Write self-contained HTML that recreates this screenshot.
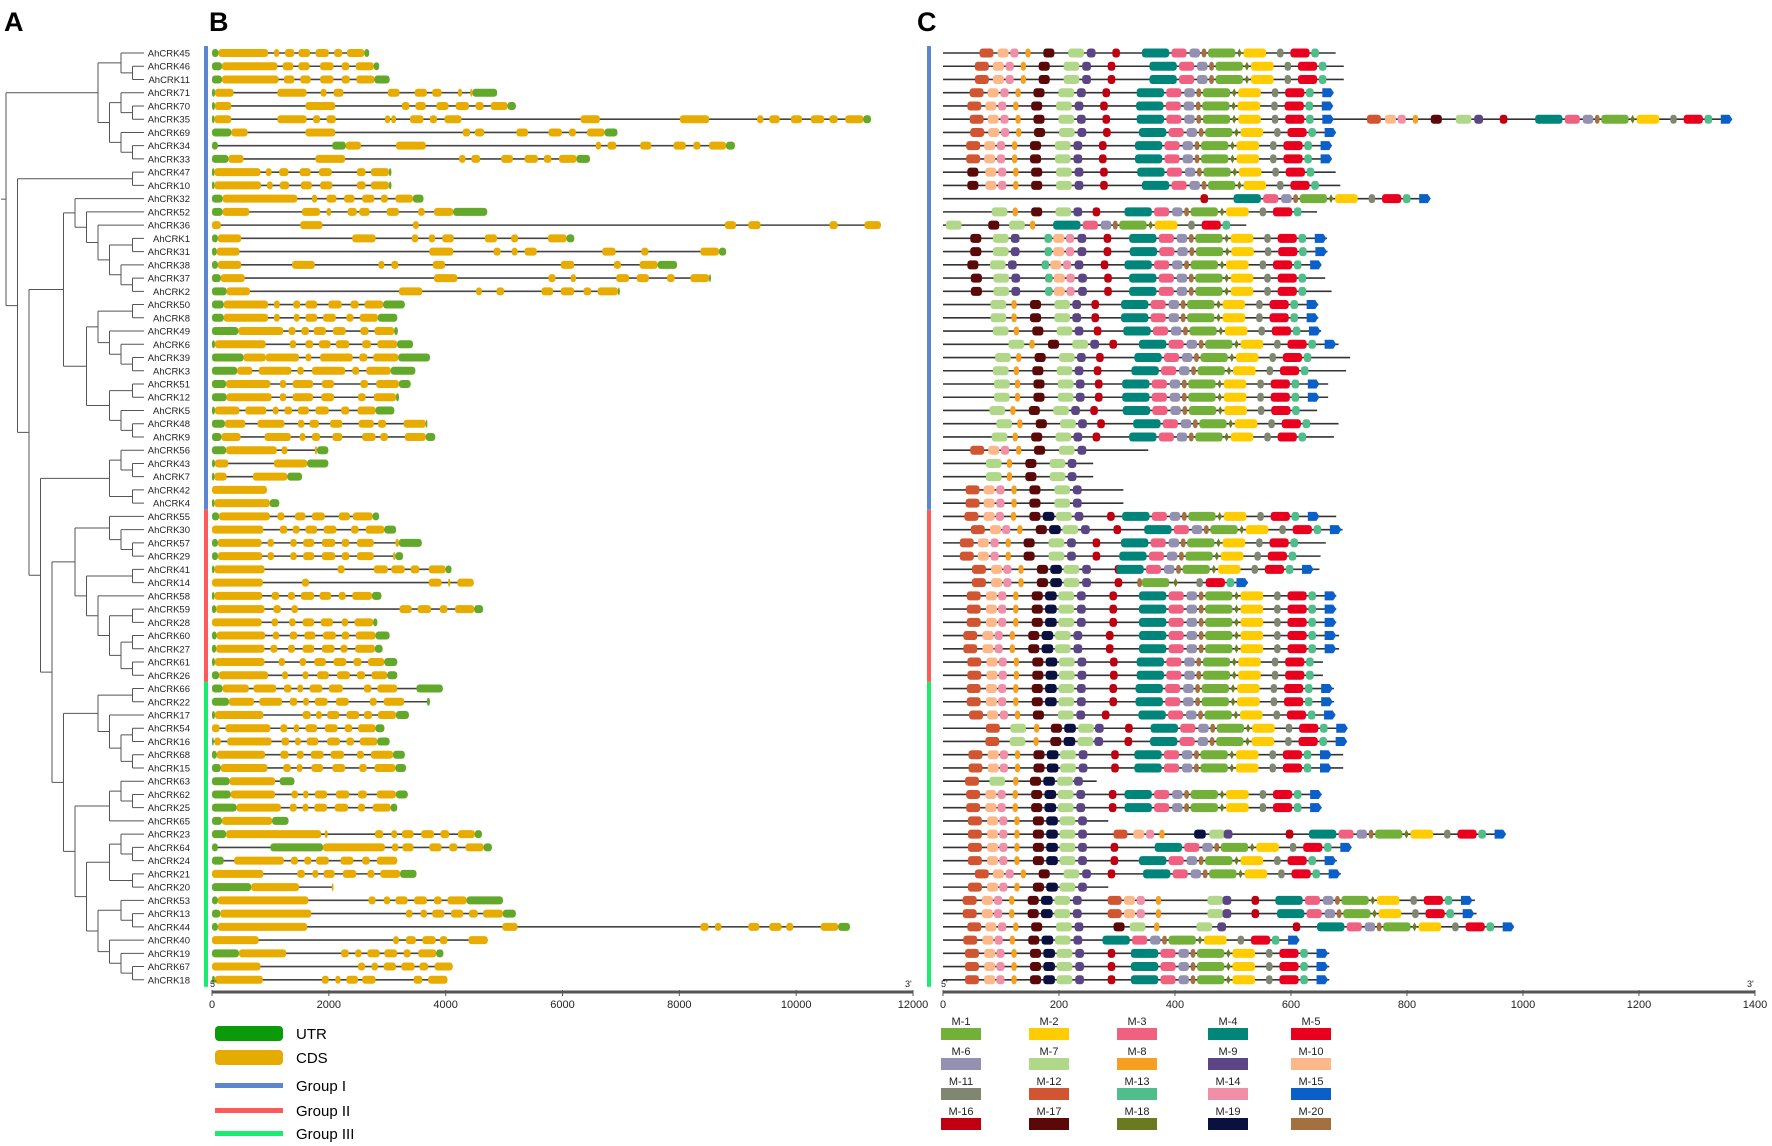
<!DOCTYPE html>
<html><head><meta charset="utf-8"><style>
html,body{margin:0;padding:0;background:#fff;}
svg{display:block;font-family:"Liberation Sans",Arial,sans-serif;}
</style></head><body>
<svg id="fig" width="1772" height="1146" viewBox="0 0 1772 1146" xmlns="http://www.w3.org/2000/svg">
<rect x="0" y="0" width="1772" height="1146" fill="#fff"/>
<text x="4" y="31" font-size="27" font-weight="bold">A</text>
<text x="209" y="31" font-size="27" font-weight="bold">B</text>
<text x="917" y="31" font-size="27" font-weight="bold">C</text>
<g id="tree"></g>
<g id="labels"></g>
<g id="genes"></g>
<g id="motifs"></g>
<g id="axes"></g>
<g id="legendB">
<rect x="215" y="1026" width="68" height="15" rx="4" fill="#0a9a0a"/>
<text x="296" y="1039" font-size="15">UTR</text>
<rect x="215" y="1050" width="68" height="15" rx="4" fill="#e6ab00"/>
<text x="296" y="1063" font-size="15">CDS</text>
<rect x="215" y="1083" width="68" height="5" fill="#5b87d0"/>
<text x="296" y="1091" font-size="15">Group I</text>
<rect x="215" y="1108" width="68" height="5" fill="#ff5a5a"/>
<text x="296" y="1116" font-size="15">Group II</text>
<rect x="215" y="1131" width="68" height="5" fill="#1aec70"/>
<text x="296" y="1139" font-size="15">Group III</text>
</g>
<g id="legendC"></g>
</svg>
<script>
const NS="http://www.w3.org/2000/svg";
const names=["AhCRK45","AhCRK46","AhCRK11","AhCRK71","AhCRK70","AhCRK35","AhCRK69","AhCRK34","AhCRK33","AhCRK47","AhCRK10","AhCRK32","AhCRK52","AhCRK36","AhCRK1","AhCRK31","AhCRK38","AhCRK37","AhCRK2","AhCRK50","AhCRK8","AhCRK49","AhCRK6","AhCRK39","AhCRK3","AhCRK51","AhCRK12","AhCRK5","AhCRK48","AhCRK9","AhCRK56","AhCRK43","AhCRK7","AhCRK42","AhCRK4","AhCRK55","AhCRK30","AhCRK57","AhCRK29","AhCRK41","AhCRK14","AhCRK58","AhCRK59","AhCRK28","AhCRK60","AhCRK27","AhCRK61","AhCRK26","AhCRK66","AhCRK22","AhCRK17","AhCRK54","AhCRK16","AhCRK68","AhCRK15","AhCRK63","AhCRK62","AhCRK25","AhCRK65","AhCRK23","AhCRK64","AhCRK24","AhCRK21","AhCRK20","AhCRK53","AhCRK13","AhCRK44","AhCRK40","AhCRK19","AhCRK67","AhCRK18"];
const groupEnds=[35,48,71];
// gene structures in kb: u=UTR, c=CDS
const geneSegs=[
"u0-.11 c.11-.96 c1.06-1.15 c1.25-1.41 c1.48-1.68 c1.77-2 c2.09-2.23 c2.31-2.61 u2.61-2.69",
"u0-.17 c.17-1.12 c1.21-1.39 c1.48-1.67 c1.85-2.08 c2.22-2.35 c2.46-2.77 u2.77-2.86",
"u0-.17 c.17-1.14 c1.23-1.41 c1.51-1.69 c1.85-2.08 c2.22-2.36 c2.47-2.78 u2.78-3.04",
"u0-.05 c.05-.37 c1.12-1.62 c1.86-1.96 c2.08-2.25 c3.01-3.21 c3.47-3.68 c3.77-3.93 c4.21-4.28 c4.42-4.46 u4.46-4.88",
"u0-.05 c.05-.33 c1.6-2.11 c3.25-3.38 c3.48-3.66 c3.84-4.05 c4.17-4.4 c4.51-4.65 c4.77-5.06 u5.06-5.2",
"u0-.04 c.04-.33 c1.12-1.62 c1.73-1.85 c1.96-2.12 c2.96-3.05 c3.07-3.15 c3.39-3.62 c3.73-3.85 c3.98-4.27 c6.31-6.64 c8.01-8.51 c9.33-9.44 c9.54-9.72 c9.91-10.1 c10.25-10.48 c10.57-10.71 c10.84-11.15 u11.15-11.28",
"u0-.33 c.33-.61 c1.6-2.11 c4.29-4.42 c4.5-4.66 c5.21-5.41 c5.76-5.99 c6.11-6.23 c6.42-6.72 u6.72-6.94",
"u0-.1 u2.06-2.29 c2.29-2.55 c3.15-3.66 c6.57-6.66 c6.77-6.92 c7.33-7.52 c7.9-8.11 c8.24-8.36 c8.51-8.8 u8.8-8.95",
"u0-.28 c.28-.54 c1.77-2.28 c4.23-4.34 c4.44-4.59 c4.95-5.15 c5.35-5.58 c5.68-5.81 c5.94-6.24 u6.24-6.47",
"u0-.04 c.04-.83 c.92-1.02 c1.15-1.31 c1.5-1.69 c1.83-2.05 c2.48-2.63 c2.72-3.03 u3.03-3.07",
"u0-.04 c.04-.84 c.94-1.04 c1.16-1.32 c1.52-1.71 c1.85-2.06 c2.48-2.63 c2.72-3.03 u3.03-3.07",
"u0-.18 c.18-1.46 c1.71-1.8 c1.96-2.13 c2.26-2.44 c2.57-2.78 c2.89-3.01 c3.14-3.44 u3.44-3.62",
"u0-.18 c.18-.64 c1.54-1.85 c1.96-2.04 c2.32-2.48 c2.52-2.7 c2.99-3.2 c3.53-3.64 c3.8-4.13 u4.13-4.71",
"c0-.15 c1.51-1.89 c3.44-3.54 c8.78-8.97 c9.18-9.39 c10.57-10.71 c11.17-11.45",
"u0-.1 c.1-.5 c2.4-2.8 c3.42-3.53 c3.71-3.82 c3.94-4.14 c4.67-4.88 c5.12-5.24 c5.75-6.07 u6.07-6.2",
"u0-.08 c.08-.47 c3.72-4.13 c4.82-4.94 c5.13-5.23 c5.35-5.56 c6.68-6.91 c7.35-7.47 c8.36-8.68 u8.68-8.8",
"u0-.1 c.1-.5 c1.37-1.76 c2.85-2.95 c3.07-3.19 c3.78-3.99 c5.97-6.2 c6.88-7 c7.32-7.63 u7.63-7.96",
"u0-.15 c.15-.56 c3.8-4.2 c5.76-5.88 c6.14-6.23 c6.92-7.14 c7.27-7.48 c7.79-7.92 c8.19-8.51 u8.51-8.54",
"u0-.25 c.25-.65 c3.2-3.6 c4.52-4.62 c4.87-5 c5.64-5.84 c5.97-6.2 c6.36-6.49 c6.6-6.95 u6.95-6.98",
"u0-.2 c.2-.96 c1.06-1.16 c1.39-1.51 c1.6-1.8 c1.99-2.22 c2.37-2.51 c2.61-2.93 u2.93-3.3",
"u0-.2 c.2-.96 c1.06-1.16 c1.4-1.5 c1.6-1.8 c1.9-2.12 c2.3-2.42 c2.53-2.84 u2.84-3.17",
"u0-.45 c.45-1.22 c1.31-1.43 c1.53-1.66 c1.74-1.95 c2.07-2.29 c2.54-2.68 c2.78-3.12 u3.12-3.18",
"u0-.05 c.05-.92 c1.33-1.44 c1.6-1.73 c1.83-2.03 c2.12-2.35 c2.57-2.72 c2.83-3.17 u3.17-3.44",
"u0-.54 c.54-.92 c.92-1.49 c1.6-1.7 c1.85-2.41 c2.52-2.66 c2.76-3.19 u3.19-3.73",
"u0-.43 c.43-.69 c.8-1.36 c1.46-1.57 c1.71-2.28 c2.4-2.52 c2.64-3.06 u3.06-3.48",
"u0-.24 c.24-1 c1.16-1.27 c1.38-1.73 c1.88-2.09 c2.54-2.67 c2.81-3.2 u3.2-3.4",
"u0-.25 c.25-1.02 c1.16-1.27 c1.38-1.73 c1.87-2.09 c2.5-2.63 c2.77-3.15 u3.15-3.2",
"u0-.05 c.05-.47 c.57-.93 c1.04-1.14 c1.24-1.37 c1.47-1.66 c1.77-2 c2.21-2.35 c2.49-2.8 u2.8-3.12",
"u0-.22 c.22-.57 c.78-1.24 c1.47-1.58 c1.67-1.83 c2.02-2.23 c2.51-2.77 c2.84-2.98 c3.28-3.66 u3.66-3.68",
"u0-.16 c.16-.49 c.9-1.35 c1.5-1.6 c1.71-1.85 c2.06-2.23 c2.57-2.8 c2.88-3.01 c3.3-3.66 u3.66-3.82",
"u0-.24 c.24-1.11 c1.19-1.29 c1.76-1.8 u1.8-1.99",
"u0-.05 c.05-.28 c1.06-1.63 u1.63-1.99",
"u0-.04 c.04-.25 c.7-1.29 u1.29-1.54",
"c0-.94",
"u0-.04 c.04-.99 u.99-1.15",
"u0-.12 c.12-.99 c1.12-1.24 c1.42-1.6 c1.71-1.93 c2.17-2.36 c2.41-2.75 u2.75-2.86",
"c0-.88 c1.16-1.29 c1.38-1.5 c1.6-1.8 c1.91-2.13 c2.38-2.51 c2.63-2.95 u2.95-3.15",
"u0-.1 c.1-.85 c.95-1.06 c1.34-1.45 c1.56-1.75 c1.88-2.11 c2.22-2.35 c2.48-2.77 c3.14-3.2 u3.2-3.59",
"u0-.1 c.1-.86 c.95-1.06 c1.34-1.45 c1.56-1.75 c1.88-2.11 c2.22-2.35 c2.48-2.77 c3.1-3.14 u3.14-3.27",
"u0-.04 c.04-.9 c2.15-2.27 c2.77-3.01 c3.07-3.3 c3.4-3.55 c3.71-4 u4-4.1",
"c0-.87 c1.54-1.66 c3.71-3.93 c4.04-4.08 c4.2-4.48",
"u0-.04 c.04-.86 c1.02-1.15 c1.3-1.42 c1.52-1.75 c1.84-2.04 c2.17-2.29 c2.4-2.74 u2.74-2.9",
"u0-.07 c.07-.9 c1.05-1.18 c1.36-1.47 c3.21-3.42 c3.52-3.75 c3.9-4.03 c4.16-4.49 u4.49-4.64",
"c0-.85 c1.02-1.13 c1.32-1.43 c1.55-1.75 c1.86-2.07 c2.22-2.33 c2.44-2.76 u2.76-2.83",
"u0-.08 c.08-.91 c1.04-1.15 c1.33-1.46 c1.58-1.77 c1.9-2.12 c2.22-2.35 c2.46-2.8 u2.8-3.04",
"u0-.07 c.07-.9 c1-1.12 c1.3-1.42 c1.55-1.75 c1.88-2.1 c2.2-2.32 c2.45-2.79 u2.79-2.92",
"u0-.05 c.05-.9 c1.14-1.25 c1.5-1.61 c1.75-1.95 c2.08-2.3 c2.42-2.56 c2.67-2.95 u2.95-3.17",
"u0-.12 c.12-.96 c1.2-1.3 c1.55-1.65 c1.8-2 c2.14-2.36 c2.48-2.62 c2.73-3 u3-3.17",
"u0-.18 c.18-.63 c.71-1.1 c1.23-1.36 c1.46-1.56 c1.67-1.89 c2-2.24 c2.6-2.73 c2.83-3.17 u3.5-3.95",
"u0-.29 c.29-.72 c.81-1.2 c1.33-1.46 c1.56-1.66 c1.76-1.98 c2.12-2.34 c2.7-2.82 c2.94-3.29 u3.68-3.73",
"u0-.05 c.05-.88 c1.55-1.69 c1.78-1.88 c1.97-2.18 c2.3-2.52 c2.6-2.74 c2.84-3.15 u3.15-3.37",
"c0-.13 c.23-1 c1.17-1.29 c1.4-1.49 c1.6-1.8 c1.93-2.15 c2.27-2.4 c2.5-2.8 u2.8-2.95",
"u0-.03 c.04-.15 c.26-1.02 c1.19-1.32 c1.42-1.52 c1.62-1.82 c1.97-2.19 c2.3-2.43 c2.53-2.83 u2.83-3.04",
"u0-.08 c.08-.91 c1.17-1.31 c1.45-1.57 c1.69-1.91 c2.03-2.26 c2.48-2.6 c2.72-3.1 u3.1-3.3",
"u0-.15 c.15-.95 c1.22-1.35 c1.45-1.55 c1.7-1.9 c2.06-2.28 c2.52-2.65 c2.78-3.14 u3.14-3.32",
"u0-.3 c.3-1.08 u1.16-1.41",
"u0-.32 c.32-1.08 c1.36-1.47 c1.56-1.65 c1.76-1.97 c2.12-2.35 c2.5-2.65 c2.82-3.15 u3.15-3.35",
"u0-.42 c.42-1.18 c1.33-1.45 c1.55-1.65 c1.75-1.97 c2.1-2.33 c2.5-2.62 c2.75-3.06 u3.06-3.17",
"u0-.17 c.17-1.03 u1.03-1.31",
"u0-.24 c.24-1.87 c1.93-1.98 c2.79-2.93 c3.07-3.17 c3.25-3.45 c3.58-3.8 c3.91-4.06 c4.21-4.5 u4.5-4.62",
"u0-.1 u1-1.9 c1.9-2.96 c3.08-3.19 c3.26-3.45 c3.72-3.93 c4.06-4.2 c4.34-4.65 u4.65-4.79",
"u0-.2 c.38-1.23 c1.35-1.47 c1.58-1.7 c1.78-2 c2.2-2.42 c2.57-2.7 c2.82-3.17",
"c0-.88 c1.46-1.59 c1.72-1.82 c1.91-2.1 c2.24-2.47 c2.66-2.78 c2.88-3.22 u3.22-3.5",
"u0-.67 c.67-1.49 c2.05-2.08",
"u0-.1 c.1-1.65 c2.68-2.8 c2.94-3.05 c3.14-3.35 c3.46-3.68 c3.8-3.93 c4.03-4.36 u4.36-4.98",
"u0-.14 c.14-1.7 c3.32-3.43 c3.57-3.68 c3.77-3.98 c4.09-4.3 c4.4-4.55 c4.64-4.98 u4.98-5.2",
"u0-.1 c.1-1.63 c4.97-5.23 c8.36-8.5 c8.61-8.72 c9.18-9.37 c9.54-9.75 c9.83-9.95 c10.42-10.72 u10.72-10.92",
"c0-.8 c3.1-3.2 c3.32-3.49 c3.6-3.83 c3.9-4.03 c4.39-4.72",
"u0-.46 c.46-1.27 c2.21-2.34 c2.45-2.56 c2.66-2.87 c2.95-3.17 c3.28-3.4 c3.53-3.84 u3.84-3.96",
"c0-.83 c2.5-2.62 c2.73-2.84 c2.94-3.15 c3.24-3.47 c3.55-3.7 c3.81-4.12",
"u0-.05 c.05-.87 c1.88-2 c2.11-2.2 c2.3-2.5 c2.57-2.8 c3.45-3.6 c3.7-4.03"
];
// protein motif data
const protLen=[677,691,691,668,668,1353,673,668,668,677,685,836,645,523,662,663,651,659,670,647,647,652,682,702,695,664,664,645,682,674,354,259,259,311,311,678,689,660,651,649,526,678,678,678,683,683,655,655,674,674,673,693,692,690,690,265,653,653,285,966,702,679,686,285,917,920,979,612,666,666,666];
const nVar=["A","A","A","A","A","A","A","A","A","A2","A2","S16","B","D","E","E","E","E","E","B","B","B","B","B","B","B","B","B","B","B","As","Bs","Bs","As","As","G","G","A","A","G","G","G","G","G","G","G","G","G","G","G","A","H","H","G","G","Hs","G","G","Gs","Gs","G","G","A","Gs","Gs","Gs","As","Gs","G","G","G"];
const nStart=[63,55,55,46,42,46,47,40,40,42,42,444,84,5,47,47,42,48,48,82,82,86,113,90,86,88,88,80,92,84,47,74,74,39,39,37,48,29,29,50,50,41,41,41,35,35,42,42,41,41,45,74,73,44,44,38,40,40,43,43,43,43,55,43,34,34,42,35,38,38,38];
const cVar=["C","C","C","C","C","C","C","C","C","C","C","C","C","C","C","C","C","C","C","C","C","C","C","C","C","C","C","C","C","C","-","-","-","-","-","C","C","C","C","C","T","C","C","C","C","C","C","C","C","C","C","C","C","C","C","-","C","C","-","C","C","C","C","-","C","C","C","C","C","C","C"];
const cStart=[343,356,356,334,333,334,338,331,331,335,343,501,313,190,321,322,313,321,321,307,307,311,338,330,325,309,309,310,328,321,0,0,0,0,0,309,347,307,304,299,335,338,338,338,338,338,334,334,332,332,337,358,357,330,330,0,313,313,0,631,365,338,345,0,573,576,645,275,324,324,324];
const has15=[0,0,0,1,1,1,1,1,1,0,0,1,0,0,1,1,1,0,0,1,1,1,1,0,0,1,1,0,0,0,0,0,0,0,0,1,1,0,0,1,1,1,1,1,1,1,0,0,1,1,1,1,1,1,1,0,1,1,0,1,1,1,1,0,1,1,1,1,1,1,1];
const n2Var={5:"A",59:"J",64:"K",65:"K",66:"L"};
const n2Start={5:731,59:294,64:284,65:284,66:294};
const c2Start={5:1021};
const variants={
A:[[12,0],[10,31],[14,53],[8,79],[17,110],[7,153],[9,185],[16,229]],
A2:[[17,0],[10,31],[14,53],[8,79],[17,110],[7,153],[9,185],[16,229]],
As:[[12,0],[10,31],[14,53],[8,79],[17,110],[7,153],[9,185]],
B:[[7,0],[8,36],[17,68],[7,110],[9,141],[16,174]],
Bs:[[7,0],[8,36],[17,68],[7,110],[9,141]],
D:[[7,0],[17,73],[7,109],[8,145]],
E:[[17,0],[7,39],[9,70],[13,128],[10,143],[14,165],[9,185],[16,230]],
G:[[12,0],[10,33],[14,54],[8,80],[17,112],[19,135],[7,158],[9,190],[16,246]],
Gs:[[12,0],[10,33],[14,54],[8,80],[17,112],[19,135],[7,158],[9,190]],
H:[[12,0],[7,42],[8,83],[17,112],[19,135],[7,159],[9,188],[16,240]],
Hs:[[12,0],[7,42],[8,83],[17,112],[19,135],[7,159],[9,188]],
J:[[12,0],[10,34],[14,56],[8,79],[19,139],[7,165],[9,190],[16,297]],
K:[[12,0],[10,28],[14,50],[8,83],[7,172],[9,198],[16,248]],
L:[[17,0],[7,28],[8,70],[7,143],[9,179],[16,309]],
S16:[[16,0]],
C:[[4,0],[3,51],[6,82],[20,103],[1,114],[18,164],[2,175],[11,233],[5,256],[13,292]],
T:[[20,0],[1,8],[18,62],[11,102],[5,118],[13,154],[15,171]]
};
const motifW={1:47,2:39,3:26,4:47,5:33,6:18,7:27,8:9,9:15,10:19,11:11,12:24,13:13,14:14,15:20,16:13,17:19,18:8,19:20,20:8};
const motifColor={1:"#72b03a",2:"#ffcc00",3:"#f06080",4:"#00857a",5:"#e8001e",6:"#9490b0",7:"#b0d888",8:"#f5a020",9:"#5c4585",10:"#fdb88a",11:"#7f8770",12:"#d05530",13:"#50be8a",14:"#f090a8",15:"#0a60c8",16:"#c00010",17:"#5a0808",18:"#6a7a20",19:"#0a1040",20:"#a57040"};
const bTicks=[0,2000,4000,6000,8000,10000,12000];
const cTicks=[0,200,400,600,800,1000,1200,1400];
// tree topology (leaf indices)
const treeTopo=[[[0,[1,2]],[[3,[4,5]],[6,[7,8]]]],[[9,10],[[[11,[12,[13,[[14,15],[16,[17,18]]]]]],[[[19,20],[21,[22,[23,24]]]],[[25,26],[27,[28,29]]]]],[[[30,[31,32]],[33,34]],[[[35,[36,[37,38]]],[[39,40],[41,[[42,43],[[44,45],[46,47]]]]]],[[[48,49],[50,[[51,52],[53,54]]]],[[[55,[56,57]],58],[[[59,[60,61]],[62,63]],[[64,[65,66]],[67,[68,[69,70]]]]]]]]]]]];

// scales
const rowY=i=>53+i*13.24;
const bx=bp=>212+bp*(701/12000);
const cx=aa=>943+aa*(812/1400);
function el(tag,attrs,parent){const e=document.createElementNS(NS,tag);for(const k in attrs)e.setAttribute(k,attrs[k]);parent.appendChild(e);return e;}

const G=id=>document.getElementById(id);
// tree
const tg=G('tree');
const leafX=144, rootX=6;
function height(n){return Array.isArray(n)?1+Math.max(height(n[0]),height(n[1])):0;}
const H0=height(treeTopo);
const step=(leafX-rootX)/H0;
function drawNode(n){
  if(!Array.isArray(n)) return {x:leafX,y:rowY(n)};
  const a=drawNode(n[0]), b=drawNode(n[1]);
  const x=leafX-height(n)*step;
  const l1=el('path',{d:`M${x},${a.y}H${a.x}M${x},${b.y}H${b.x}M${x},${a.y}V${b.y}`,stroke:'#555','stroke-width':1,fill:'none'},tg);
  
  
  return {x:x,y:(a.y+b.y)/2};
}
const root=drawNode(treeTopo);
const rl=el('line',{x1:1,y1:root.y,x2:root.x,y2:root.y,stroke:'#555','stroke-width':1},tg);



// labels
const lg=G('labels');
names.forEach((n,i)=>{
  const t=el('text',{x:190,y:rowY(i)+3.5,'font-size':9.5,'text-anchor':'end',fill:'#222'},lg);
  t.textContent=n;
  
  
});

// group bars
const gcol=["#5b87d0","#ff5a5a","#1aec70"];
[204,927].forEach((gx,pi)=>{
  let s=0;
  groupEnds.forEach((e,gi)=>{
    const y1=gi===0?rowY(0)-7:rowY(s)-6.6, y2=gi===2?rowY(e-1)+7:rowY(e-1)+6.6;
    const r=el('rect',{x:gx,y:y1,width:4,height:y2-y1,fill:gcol[gi]},G(pi?'motifs':'genes'));
    
    
    s=e;
  });
});

// genes
const gg=G('genes');
geneSegs.forEach((str,i)=>{
  const segs=str.split(' ').map(s=>{const t=s[0];const [a,b]=s.slice(1).split('-').map(v=>parseFloat(v)*1000);return [t,a,b];});
  const len=Math.max(...segs.map(s=>s[2]));
  const y=rowY(i);
  const ln=el('line',{x1:bx(0),y1:y,x2:bx(len),y2:y,stroke:'#444','stroke-width':1.6},gg);
  
  
  segs.forEach(s=>{
    const r=el('rect',{x:bx(s[1]),y:y-4,width:Math.max(1.5,bx(s[2])-bx(s[1])),height:8,rx:3,fill:s[0]==='u'?'#62a82a':'#e8ac00'},gg);
    
    
  });
});

// motifs
const mg=G('motifs');
function drawMotif(m,pos,y){
  const x=cx(pos), w=motifW[m]*812/1400;
  let e;
  if(m===15){
    e=el('polygon',{points:`${x},${y-4.5} ${x+w-3},${y-4.5} ${x+w},${y} ${x+w-3},${y+4.5} ${x},${y+4.5}`,fill:motifColor[m]},mg);
  } else if(m===18){
    e=el('polygon',{points:`${x},${y} ${x+w/2},${y-4.5} ${x+w},${y} ${x+w/2},${y+4.5}`,fill:motifColor[m]},mg);
  } else {
    e=el('rect',{x:x,y:y-4.5,width:w,height:9,rx:3,fill:motifColor[m]},mg);
  }
  
  
}
protLen.forEach((L,i)=>{
  const y=rowY(i);
  const ln=el('line',{x1:cx(0),y1:y,x2:cx(L),y2:y,stroke:'#333','stroke-width':1.6},mg);
  
  
  (variants[nVar[i]]||[]).forEach(([m,p])=>drawMotif(m,nStart[i]+p,y));
  if(n2Var[i]) variants[n2Var[i]].forEach(([m,p])=>drawMotif(m,n2Start[i]+p,y));
  const cs=[cStart[i]]; if(c2Start[i]) cs.push(c2Start[i]);
  if(cVar[i]!=='-') cs.forEach(c=>{
    variants[cVar[i]].forEach(([m,p])=>drawMotif(m,c+p,y));
    if(has15[i]&&cVar[i]==='C') drawMotif(15,c+320,y);
  });
});

// axes
const ag=G('axes');
function axis(x0,x1,ticks,scale,name){
  const a=el('line',{x1:x0,y1:992,x2:x1,y2:992,stroke:'#555','stroke-width':3},ag);
  
  
  ticks.forEach(t=>{
    const X=scale(t);
    const tk=el('line',{x1:X,y1:990,x2:X,y2:996,stroke:'#555','stroke-width':1},ag);
    
    
    const tx=el('text',{x:X,y:1008,'font-size':11,'text-anchor':'middle',fill:'#222'},ag);
    tx.textContent=t;
    
    
  });
  const f=el('text',{x:x0-2,y:987,'font-size':9,fill:'#222'},ag);f.textContent="5'";
  
  
  const e=el('text',{x:x1-8,y:987,'font-size':9,fill:'#222'},ag);e.textContent="3'";
  
  
}
axis(bx(0),bx(12000),bTicks,bx,'b-axis');
axis(cx(0),cx(1400),cTicks,cx,'c-axis');

// motif legend
const lc=G('legendC');
const colX=[941,1029,1117,1208,1291], rowYs=[1034,1064,1094,1124];
for(let m=1;m<=20;m++){
  const c=(m-1)%5, r=Math.floor((m-1)/5);
  const b=el('rect',{x:colX[c],y:rowYs[r]-6,width:40,height:12,fill:motifColor[m]},lc);
  
  
  const t=el('text',{x:colX[c]+20,y:rowYs[r]-9,'font-size':11,'text-anchor':'middle',fill:'#222'},lc);
  t.textContent='M-'+m;
  
  
}
</script>
</body></html>
